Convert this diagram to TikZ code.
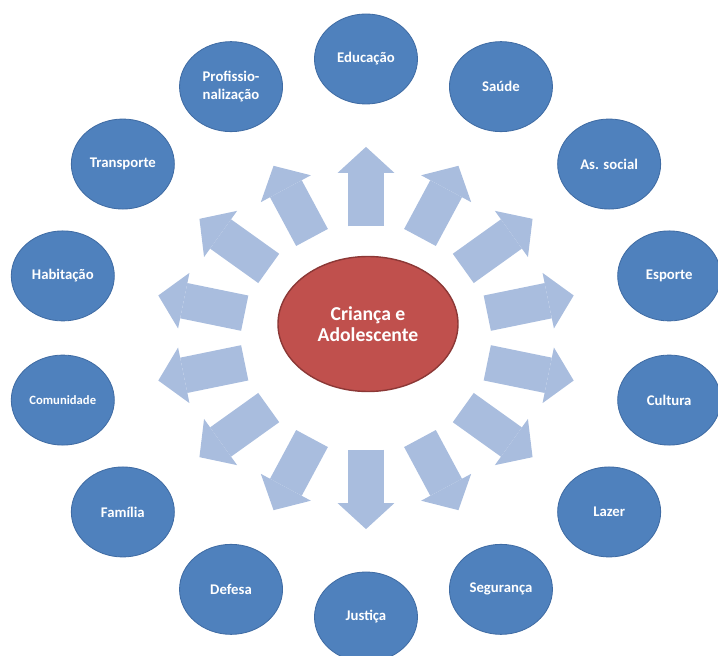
\documentclass[tikz,border=0pt]{standalone}
\usepackage{fontspec}
\setmainfont{Carlito}
\usetikzlibrary{arrows.meta,calc,shapes.geometric}
\definecolor{topicblue}{RGB}{79,129,189}
\definecolor{topicedge}{RGB}{64,108,164}
\definecolor{corered}{RGB}{192,80,77}
\definecolor{coreedge}{RGB}{140,56,54}
\definecolor{flowblue}{RGB}{169,189,222}
\tikzset{
  bubble/.style={ellipse, draw=topicedge, fill=topicblue, line width=0.6pt, minimum width=25.75mm, minimum height=22.5mm, inner sep=0pt, align=center, text=white, font=\bfseries\fontsize{10.5}{12.5}\selectfont},
  core/.style={ellipse, draw=coreedge, fill=corered, line width=1pt, minimum width=45mm, minimum height=33.75mm, inner sep=0pt, align=center, text=white, font=\bfseries\fontsize{14}{14.5}\selectfont},
  blockarrow/.style={-{Triangle[length=6.5mm,width=14.2mm,line width=0pt]}, line width=9mm, draw=flowblue}
}

\begin{document}
\begin{tikzpicture}
\useasboundingbox (-9.15,-7.95) rectangle (8.8,8.45);
\coordinate (o) at (0,0);
\node[core] (kid) at (0.05,0.35) {Criança e\\Adolescente};
\node[bubble] (edu) at (0,6.975) {Educação};
\node[bubble] (sau) at (3.374,6.284) {Saúde};
\node[bubble] (ass) at (6.079,4.349) {As. social};
\node[bubble] (esp) at (7.58,1.552) {Esporte};
\node[bubble] (cul) at (7.58,-1.552) {Cultura};
\node[bubble] (laz) at (6.079,-4.349) {Lazer};
\node[bubble] (seg) at (3.374,-6.284) {Segurança};
\node[bubble] (jus) at (0,-6.975) {Justiça};
\node[bubble] (def) at (-3.374,-6.284) {Defesa};
\node[bubble] (fam) at (-6.079,-4.349) {Família};
\node[bubble, font=\bfseries\fontsize{9}{11}\selectfont] (com) at (-7.58,-1.552) {Comunidade};
\node[bubble] (hab) at (-7.58,1.552) {Habitação};
\node[bubble] (tra) at (-6.079,4.349) {Transporte};
\node[bubble] (pro) at (-3.374,6.284) {Profissio-\\nalização};
\draw[blockarrow] ($(o)!0.4!(edu)$) -- ($(o)!0.685!(edu)$);
\draw[blockarrow] ($(o)!0.4!(sau)$) -- ($(o)!0.685!(sau)$);
\draw[blockarrow] ($(o)!0.4!(ass)$) -- ($(o)!0.685!(ass)$);
\draw[blockarrow] ($(o)!0.4!(esp)$) -- ($(o)!0.685!(esp)$);
\draw[blockarrow] ($(o)!0.4!(cul)$) -- ($(o)!0.685!(cul)$);
\draw[blockarrow] ($(o)!0.4!(laz)$) -- ($(o)!0.685!(laz)$);
\draw[blockarrow] ($(o)!0.4!(seg)$) -- ($(o)!0.685!(seg)$);
\draw[blockarrow] ($(o)!0.4!(jus)$) -- ($(o)!0.685!(jus)$);
\draw[blockarrow] ($(o)!0.4!(def)$) -- ($(o)!0.685!(def)$);
\draw[blockarrow] ($(o)!0.4!(fam)$) -- ($(o)!0.685!(fam)$);
\draw[blockarrow] ($(o)!0.4!(com)$) -- ($(o)!0.685!(com)$);
\draw[blockarrow] ($(o)!0.4!(hab)$) -- ($(o)!0.685!(hab)$);
\draw[blockarrow] ($(o)!0.4!(tra)$) -- ($(o)!0.685!(tra)$);
\draw[blockarrow] ($(o)!0.4!(pro)$) -- ($(o)!0.685!(pro)$);
\end{tikzpicture}
\end{document}
